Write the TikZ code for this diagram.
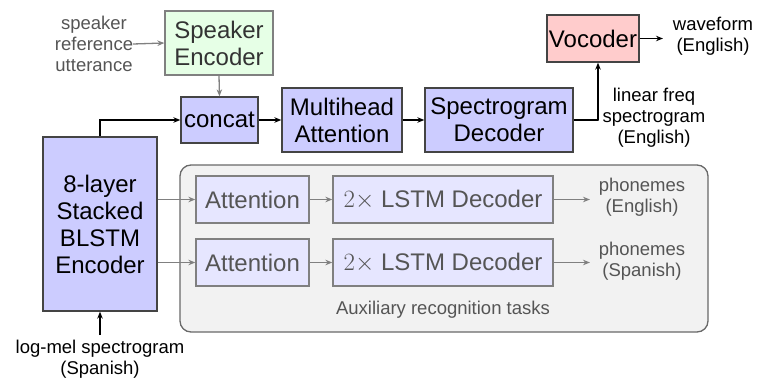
\documentclass[tikz,border=0pt]{standalone}
\usepackage{fontspec}
\setmainfont{Liberation Sans}
\usetikzlibrary{arrows.meta}
\definecolor{bluefill}{HTML}{CCCCFF}
\definecolor{lightblue}{HTML}{E6E6FF}
\definecolor{greenfill}{HTML}{E6FFE6}
\definecolor{pinkfill}{HTML}{FFCCCC}
\definecolor{auxfill}{HTML}{F2F2F2}
\definecolor{edgegray}{HTML}{444444}
\definecolor{txtgray}{HTML}{555555}
\definecolor{arrgray}{HTML}{808080}
\tikzset{
  big/.style={font=\fontsize{24}{27}\selectfont, align=center},
  small/.style={font=\fontsize{18.5}{21}\selectfont, align=center},
  mainbox/.style={big, draw=edgegray, line width=1.3pt, fill=bluefill, inner sep=0pt},
  auxinner/.style={big, draw=arrgray, line width=1.3pt, fill=lightblue, inner sep=0pt, text=txtgray, minimum height=47pt},
  blackarr/.style={line width=1.3pt, -{Stealth[length=7pt,width=5.5pt]}},
  grayarr/.style={line width=1.3pt, draw=arrgray, -{Stealth[length=7pt,width=5.5pt]}},
}
\begin{document}
\begin{tikzpicture}[x=1pt,y=-1pt]
\useasboundingbox (0,0) rectangle (758,378);
% auxiliary box
\node[draw=edgegray!80, line width=1.3pt, fill=auxfill, rounded corners=11pt, minimum width=528pt, minimum height=167pt, inner sep=0pt] (aux) at (444,248.5) {};
\node[small, text=txtgray] (auxlbl) at (443,310) {Auxiliary recognition tasks};
% main boxes
\node[big, draw=arrgray, line width=1.3pt, fill=greenfill, inner sep=0pt, minimum width=108pt, minimum height=64pt, text=black!80] (spk) at (219,43) {Speaker\\Encoder};
\node[mainbox, minimum width=77pt, minimum height=46pt] (concat) at (219.5,120) {concat};
\node[mainbox, minimum width=120pt, minimum height=64pt] (mha) at (342,120) {Multihead\\Attention};
\node[mainbox, minimum width=148pt, minimum height=64pt] (spec) at (499,120) {Spectrogram\\Decoder};
\node[big, draw=edgegray, line width=1.3pt, fill=pinkfill, inner sep=0pt, minimum width=92pt, minimum height=47pt] (voc) at (593,38.5) {Vocoder};
\node[mainbox, minimum width=114pt, minimum height=174pt] (enc) at (100,224) {8-layer\\Stacked\\BLSTM\\Encoder};
% aux inner boxes
\node[auxinner, minimum width=113pt] (att1) at (252.5,199.5) {Attention};
\node[auxinner, minimum width=113pt] (att2) at (252.5,262.5) {Attention};
\node[auxinner, minimum width=220pt] (lstm1) at (443,199.5) {$2\times$ LSTM Decoder};
\node[auxinner, minimum width=220pt] (lstm2) at (443,262.5) {$2\times$ LSTM Decoder};
% texts
\node[small, text=txtgray] (ref) at (94,44) {speaker\\reference\\utterance};
\node[small] (wave) at (713,36.5) {waveform\\(English)};
\node[small] (lin) at (654,118) {linear freq\\spectrogram\\(English)};
\node[small, text=txtgray] (ph1) at (642,197.5) {phonemes\\(English)};
\node[small, text=txtgray] (ph2) at (642,261) {phonemes\\(Spanish)};
\node[small] (logmel) at (100,359) {log-mel spectrogram\\(Spanish)};
\coordinate (refend) at (133,44);
\coordinate (logtop) at (100,335);
\coordinate (wavestart) at (663,38.5);
\coordinate (ph1start) at (590,199.5);
\coordinate (ph2start) at (590,262.5);
% connectors
\draw[grayarr] (refend) -- (spk.west);
\draw[grayarr] (spk.south) -- (concat.north);
\draw[blackarr] (enc.north) |- (concat.west);
\draw[blackarr] (concat) -- (mha);
\draw[blackarr] (mha) -- (spec);
\draw[blackarr] (spec.east) -- ++(25,0) -| ([xshift=5pt]voc.south);
\draw[blackarr] (voc.east) -- (wavestart);
\draw[blackarr] (logtop) -- (enc.south);
\draw[grayarr] (enc.east |- att1) -- (att1.west);
\draw[grayarr] (enc.east |- att2) -- (att2.west);
\draw[grayarr] (att1) -- (lstm1);
\draw[grayarr] (att2) -- (lstm2);
\draw[grayarr] (lstm1.east) -- (ph1start);
\draw[grayarr] (lstm2.east) -- (ph2start);
\end{tikzpicture}
\end{document}
